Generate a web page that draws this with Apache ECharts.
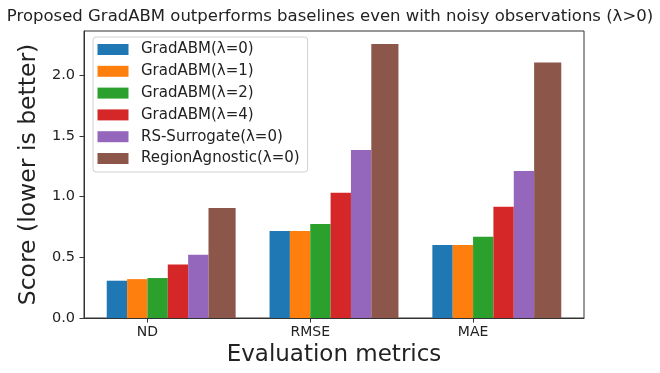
<!DOCTYPE html>
<html>
<head>
<meta charset="utf-8">
<script src="https://cdn.jsdelivr.net/npm/echarts@6/dist/echarts.min.js"></script>
<style>html,body{margin:0;padding:0;background:#fff}#c{width:660px;height:373px}</style>
</head>
<body>
<div id="c"></div>
<script>
const categories = ['ND', 'RMSE', 'MAE'];
const seriesNames = ['GradABM(λ=0)', 'GradABM(λ=1)', 'GradABM(λ=2)', 'GradABM(λ=4)', 'RS-Surrogate(λ=0)', 'RegionAgnostic(λ=0)'];
const gradABM0 = [0.307, 0.716, 0.601];
const gradABM1 = [0.320, 0.716, 0.601];
const gradABM2 = [0.329, 0.774, 0.669];
const gradABM4 = [0.440, 1.031, 0.916];
const rsSurrogate = [0.521, 1.383, 1.210];
const regionAgnostic = [0.905, 2.255, 2.104];
const yTicks = [0, 0.5, 1.0, 1.5, 2.0];

const values = [gradABM0, gradABM1, gradABM2, gradABM4, rsSurrogate, regionAgnostic];
const colors = ['#1f77b4', '#ff7f0e', '#2ca02c', '#d62728', '#9467bd', '#8c564b'];
const offsets = [-0.25, -0.125, 0, 0.125, 0.25, 0.375];
const widths = [0.125, 0.125, 0.125, 0.125, 0.125, 0.1667];

const chart = echarts.init(document.getElementById('c'), null, {renderer: 'canvas'});
const FONT = 'DejaVu Sans';

const series = values.map((vals, k) => ({
  type: 'custom',
  name: seriesNames[k],
  itemStyle: {color: colors[k]},
  encode: {x: 0, y: 1},
  data: vals.map((v, i) => [i, v]),
  renderItem: (params, api) => {
    const x = api.value(0), y = api.value(1);
    const p0 = api.coord([x + offsets[k], 0]);
    const p1 = api.coord([x + offsets[k] + widths[k], y]);
    return {
      type: 'rect',
      shape: {x: p0[0], y: p1[1], width: p1[0] - p0[0], height: p0[1] - p1[1]},
      style: {fill: colors[k]}
    };
  }
}));

chart.setOption({
  animation: false,
  backgroundColor: '#fff',
  title: {
    text: 'Proposed GradABM outperforms baselines even with noisy observations (λ>0)',
    left: 'center', top: 3,
    textStyle: {fontFamily: FONT, fontSize: 16.5, fontWeight: 'normal', color: '#222'}
  },
  legend: {
    orient: 'vertical', left: 93, top: 37,
    icon: 'rect', itemWidth: 31, itemHeight: 11, itemGap: 6.8,
    padding: [5, 8, 6, 4.5],
    backgroundColor: '#fff', borderColor: '#d0d0d0', borderWidth: 1, borderRadius: 3,
    textStyle: {fontFamily: FONT, fontSize: 15, color: '#222', lineHeight: 14, padding: [0, 0, 0, 7.5]},
    data: seriesNames
  },
  grid: {left: 84, right: 76, top: 31, bottom: 55, show: true, borderColor: '#333', borderWidth: 1, backgroundColor: 'transparent'},
  xAxis: {
    type: 'value', min: -0.3896, max: 2.6813,
    name: 'Evaluation metrics', nameLocation: 'middle', nameGap: 26,
    nameTextStyle: {fontFamily: FONT, fontSize: 23, color: '#222'},
    axisLine: {show: true, onZero: false, lineStyle: {color: '#333', width: 1}},
    axisTick: {show: true, customValues: [0, 1, 2], length: 4.5, lineStyle: {color: '#333', width: 1}},
    axisLabel: {customValues: [0, 1, 2], formatter: v => categories[Math.round(v)], margin: 7,
      fontFamily: FONT, fontSize: 14, color: '#222'},
    splitLine: {show: false}
  },
  yAxis: {
    type: 'value', min: 0, max: 2.3625,
    name: 'Score (lower is better)', nameLocation: 'middle', nameGap: 36,
    nameTextStyle: {fontFamily: FONT, fontSize: 23.5, color: '#222'},
    axisLine: {show: true, onZero: false, lineStyle: {color: '#333', width: 1}},
    axisTick: {show: true, customValues: yTicks, length: 4.5, lineStyle: {color: '#333', width: 1}},
    axisLabel: {customValues: yTicks, formatter: v => v.toFixed(1), margin: 9,
      fontFamily: FONT, fontSize: 14.5, color: '#222'},
    splitLine: {show: false}
  },
  series: series
});
</script>
</body>
</html>
